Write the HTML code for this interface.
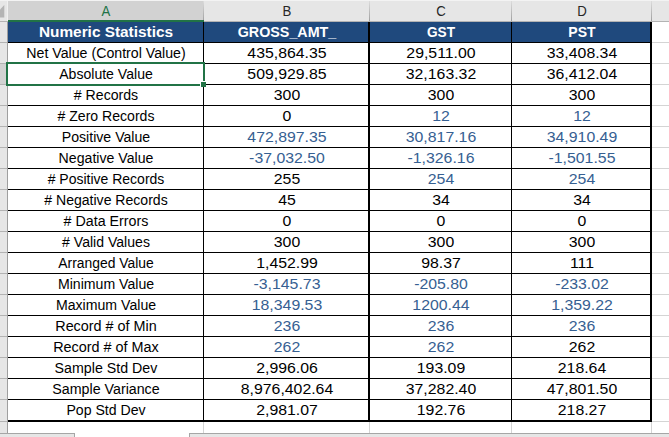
<!DOCTYPE html>
<html><head><meta charset="utf-8"><title>sheet</title>
<style>
html,body{margin:0;padding:0;}
body{width:669px;height:437px;position:relative;overflow:hidden;background:#fff;font-family:"Liberation Sans",sans-serif;}
div{position:absolute;}
.t{white-space:nowrap;font-size:14.0px;line-height:20px;height:20px;color:#000;transform-origin:50% 50%;text-align:center;}
.b{color:#366092;}
.h{color:#fff;font-weight:bold;font-size:14px;}
.hl{background:#000;}
.gl{background:#d4d4d4;}
.ch{font-size:14.4px;line-height:20px;height:20px;color:#444;white-space:nowrap;}
</style></head><body>

<div style="left:0;top:0;width:669px;height:21px;background:#e6e6e6"></div>
<div style="left:0;top:0;width:669px;height:1px;background:#f3f3f3"></div>
<div style="left:0;top:21px;width:669px;height:1px;background:#b3b3b3"></div>
<div style="left:8px;top:1px;width:195px;height:19px;background:#d2d2d2"></div>
<div style="left:7px;top:1px;width:1px;height:20px;background:#f0f0f0"></div>
<div style="left:203px;top:1px;width:1px;height:20px;background:linear-gradient(#dcdcdc,#a0a0a0)"></div>
<div style="left:369px;top:1px;width:1px;height:20px;background:linear-gradient(#dcdcdc,#a0a0a0)"></div>
<div style="left:511px;top:1px;width:1px;height:20px;background:linear-gradient(#dcdcdc,#a0a0a0)"></div>
<div style="left:651px;top:1px;width:1px;height:20px;background:linear-gradient(#dcdcdc,#a0a0a0)"></div>
<div style="left:8px;top:20px;width:196px;height:2px;background:#217346"></div>
<svg style="position:absolute;left:0;top:0" width="8" height="21"><polygon points="4.3,5 4.3,17.5 0,17.5 0,9.5" fill="#b4b4b4"/></svg>
<div style="left:0;top:22px;width:7px;height:411px;background:#e6e6e6"></div>
<div style="left:7px;top:22px;width:1px;height:411px;background:#9f9f9f"></div>
<div style="left:0;top:42px;width:7px;height:1px;background:#b3b3b3"></div>
<div style="left:0;top:63px;width:7px;height:1px;background:#b3b3b3"></div>
<div style="left:0;top:84px;width:7px;height:1px;background:#b3b3b3"></div>
<div style="left:0;top:105px;width:7px;height:1px;background:#b3b3b3"></div>
<div style="left:0;top:126px;width:7px;height:1px;background:#b3b3b3"></div>
<div style="left:0;top:147px;width:7px;height:1px;background:#b3b3b3"></div>
<div style="left:0;top:168px;width:7px;height:1px;background:#b3b3b3"></div>
<div style="left:0;top:189px;width:7px;height:1px;background:#b3b3b3"></div>
<div style="left:0;top:210px;width:7px;height:1px;background:#b3b3b3"></div>
<div style="left:0;top:231px;width:7px;height:1px;background:#b3b3b3"></div>
<div style="left:0;top:252px;width:7px;height:1px;background:#b3b3b3"></div>
<div style="left:0;top:273px;width:7px;height:1px;background:#b3b3b3"></div>
<div style="left:0;top:294px;width:7px;height:1px;background:#b3b3b3"></div>
<div style="left:0;top:315px;width:7px;height:1px;background:#b3b3b3"></div>
<div style="left:0;top:336px;width:7px;height:1px;background:#b3b3b3"></div>
<div style="left:0;top:357px;width:7px;height:1px;background:#b3b3b3"></div>
<div style="left:0;top:378px;width:7px;height:1px;background:#b3b3b3"></div>
<div style="left:0;top:399px;width:7px;height:1px;background:#b3b3b3"></div>
<div style="left:0;top:421px;width:7px;height:1px;background:#b3b3b3"></div>
<div style="left:0;top:64px;width:6px;height:20px;background:#d2d2d2"></div>
<div style="left:8px;top:22px;width:643px;height:20px;background:#1f497d"></div>
<div class="gl" style="left:652px;top:42px;width:17px;height:1px"></div>
<div class="gl" style="left:652px;top:63px;width:17px;height:1px"></div>
<div class="gl" style="left:652px;top:84px;width:17px;height:1px"></div>
<div class="gl" style="left:652px;top:105px;width:17px;height:1px"></div>
<div class="gl" style="left:652px;top:126px;width:17px;height:1px"></div>
<div class="gl" style="left:652px;top:147px;width:17px;height:1px"></div>
<div class="gl" style="left:652px;top:168px;width:17px;height:1px"></div>
<div class="gl" style="left:652px;top:189px;width:17px;height:1px"></div>
<div class="gl" style="left:652px;top:210px;width:17px;height:1px"></div>
<div class="gl" style="left:652px;top:231px;width:17px;height:1px"></div>
<div class="gl" style="left:652px;top:252px;width:17px;height:1px"></div>
<div class="gl" style="left:652px;top:273px;width:17px;height:1px"></div>
<div class="gl" style="left:652px;top:294px;width:17px;height:1px"></div>
<div class="gl" style="left:652px;top:315px;width:17px;height:1px"></div>
<div class="gl" style="left:652px;top:336px;width:17px;height:1px"></div>
<div class="gl" style="left:652px;top:357px;width:17px;height:1px"></div>
<div class="gl" style="left:652px;top:378px;width:17px;height:1px"></div>
<div class="gl" style="left:652px;top:399px;width:17px;height:1px"></div>
<div class="gl" style="left:652px;top:421px;width:17px;height:1px"></div>
<div class="gl" style="left:203px;top:422px;width:1px;height:11px"></div>
<div class="gl" style="left:369px;top:422px;width:1px;height:11px"></div>
<div class="gl" style="left:511px;top:422px;width:1px;height:11px"></div>
<div class="gl" style="left:651px;top:422px;width:1px;height:11px"></div>
<div class="hl" style="left:8px;top:42px;width:643px;height:1px"></div>
<div class="hl" style="left:8px;top:63px;width:643px;height:1px"></div>
<div class="hl" style="left:8px;top:84px;width:643px;height:1px"></div>
<div class="hl" style="left:8px;top:105px;width:643px;height:1px"></div>
<div class="hl" style="left:8px;top:126px;width:643px;height:1px"></div>
<div class="hl" style="left:8px;top:147px;width:643px;height:1px"></div>
<div class="hl" style="left:8px;top:168px;width:643px;height:1px"></div>
<div class="hl" style="left:8px;top:189px;width:643px;height:1px"></div>
<div class="hl" style="left:8px;top:210px;width:643px;height:1px"></div>
<div class="hl" style="left:8px;top:231px;width:643px;height:1px"></div>
<div class="hl" style="left:8px;top:252px;width:643px;height:1px"></div>
<div class="hl" style="left:8px;top:273px;width:643px;height:1px"></div>
<div class="hl" style="left:8px;top:294px;width:643px;height:1px"></div>
<div class="hl" style="left:8px;top:315px;width:643px;height:1px"></div>
<div class="hl" style="left:8px;top:336px;width:643px;height:1px"></div>
<div class="hl" style="left:8px;top:357px;width:643px;height:1px"></div>
<div class="hl" style="left:8px;top:378px;width:643px;height:1px"></div>
<div class="hl" style="left:8px;top:399px;width:643px;height:1px"></div>
<div class="hl" style="left:8px;top:420px;width:644px;height:2px"></div>
<div class="hl" style="left:203px;top:22px;width:1px;height:399px"></div>
<div class="hl" style="left:368px;top:22px;width:2px;height:399px"></div>
<div class="hl" style="left:511px;top:22px;width:1px;height:399px"></div>
<div class="hl" style="left:650px;top:22px;width:2px;height:400px"></div>
<div style="left:0;top:433px;width:75px;height:4px;background:#e6e6e6;border-top:1px solid #a6a6a6;border-right:1px solid #a6a6a6;box-sizing:border-box"></div>
<div style="left:189px;top:433px;width:480px;height:4px;background:#e6e6e6;border-top:1px solid #a6a6a6;border-left:1px solid #a6a6a6;box-sizing:border-box"></div>
<div style="left:6px;top:62px;width:199px;height:2px;background:#217346"></div>
<div style="left:6px;top:84px;width:194px;height:2px;background:#217346"></div>
<div style="left:6px;top:62px;width:2px;height:24px;background:#217346"></div>
<div style="left:203px;top:62px;width:2px;height:19px;background:#217346"></div>
<div style="left:200px;top:81px;width:6px;height:6px;background:#fff"></div>
<div style="left:201px;top:82px;width:5px;height:5px;background:#217346"></div>
<div class="ch" style="left:106.0px;top:1px;width:40px;margin-left:-20px;text-align:center;color:#217346;transform:scaleX(0.92)">A</div>
<div class="ch" style="left:286.5px;top:1px;width:40px;margin-left:-20px;text-align:center;color:#262626;transform:scaleX(0.92)">B</div>
<div class="ch" style="left:441.0px;top:1px;width:40px;margin-left:-20px;text-align:center;color:#262626;transform:scaleX(0.92)">C</div>
<div class="ch" style="left:582.0px;top:1px;width:40px;margin-left:-20px;text-align:center;color:#262626;transform:scaleX(0.92)">D</div>
<div class="t h" style="left:106.0px;top:22px;width:260px;margin-left:-130px;transform:scaleX(1.0978)">Numeric Statistics</div>
<div class="t h" style="left:286.5px;top:22px;width:260px;margin-left:-130px;transform:scaleX(1.0222)">GROSS_AMT_</div>
<div class="t h" style="left:441.0px;top:22px;width:260px;margin-left:-130px;transform:scaleX(0.9763)">GST</div>
<div class="t h" style="left:582.0px;top:22px;width:260px;margin-left:-130px;transform:scaleX(1.0012)">PST</div>
<div class="t" style="left:106.0px;top:43px;width:260px;margin-left:-130px;transform:scaleX(1.0117)">Net Value (Control Value)</div>
<div class="t" style="left:286.5px;top:43px;width:260px;margin-left:-130px;transform:scaleX(1.1313)">435,864.35</div>
<div class="t" style="left:441.0px;top:43px;width:260px;margin-left:-130px;transform:scaleX(1.1313)">29,511.00</div>
<div class="t" style="left:582.0px;top:43px;width:260px;margin-left:-130px;transform:scaleX(1.1313)">33,408.34</div>
<div class="t" style="left:106.0px;top:64px;width:260px;margin-left:-130px;transform:scaleX(1.0050)">Absolute Value</div>
<div class="t" style="left:286.5px;top:64px;width:260px;margin-left:-130px;transform:scaleX(1.1313)">509,929.85</div>
<div class="t" style="left:441.0px;top:64px;width:260px;margin-left:-130px;transform:scaleX(1.1313)">32,163.32</div>
<div class="t" style="left:582.0px;top:64px;width:260px;margin-left:-130px;transform:scaleX(1.1313)">36,412.04</div>
<div class="t" style="left:106.0px;top:85px;width:260px;margin-left:-130px;transform:scaleX(1.0088)"># Records</div>
<div class="t" style="left:286.5px;top:85px;width:260px;margin-left:-130px;transform:scaleX(1.1313)">300</div>
<div class="t" style="left:441.0px;top:85px;width:260px;margin-left:-130px;transform:scaleX(1.1313)">300</div>
<div class="t" style="left:582.0px;top:85px;width:260px;margin-left:-130px;transform:scaleX(1.1313)">300</div>
<div class="t" style="left:106.0px;top:106px;width:260px;margin-left:-130px;transform:scaleX(1.0050)"># Zero Records</div>
<div class="t" style="left:286.5px;top:106px;width:260px;margin-left:-130px;transform:scaleX(1.1313)">0</div>
<div class="t b" style="left:441.0px;top:106px;width:260px;margin-left:-130px;transform:scaleX(1.1313)">12</div>
<div class="t b" style="left:582.0px;top:106px;width:260px;margin-left:-130px;transform:scaleX(1.1313)">12</div>
<div class="t" style="left:106.0px;top:127px;width:260px;margin-left:-130px;transform:scaleX(1.0079)">Positive Value</div>
<div class="t b" style="left:286.5px;top:127px;width:260px;margin-left:-130px;transform:scaleX(1.1313)">472,897.35</div>
<div class="t b" style="left:441.0px;top:127px;width:260px;margin-left:-130px;transform:scaleX(1.1313)">30,817.16</div>
<div class="t b" style="left:582.0px;top:127px;width:260px;margin-left:-130px;transform:scaleX(1.1313)">34,910.49</div>
<div class="t" style="left:106.0px;top:148px;width:260px;margin-left:-130px;transform:scaleX(1.0088)">Negative Value</div>
<div class="t b" style="left:286.5px;top:148px;width:260px;margin-left:-130px;transform:scaleX(1.1313)">-37,032.50</div>
<div class="t b" style="left:441.0px;top:148px;width:260px;margin-left:-130px;transform:scaleX(1.1313)">-1,326.16</div>
<div class="t b" style="left:582.0px;top:148px;width:260px;margin-left:-130px;transform:scaleX(1.1313)">-1,501.55</div>
<div class="t" style="left:106.0px;top:169px;width:260px;margin-left:-130px;transform:scaleX(0.9993)"># Positive Records</div>
<div class="t" style="left:286.5px;top:169px;width:260px;margin-left:-130px;transform:scaleX(1.1313)">255</div>
<div class="t b" style="left:441.0px;top:169px;width:260px;margin-left:-130px;transform:scaleX(1.1313)">254</div>
<div class="t b" style="left:582.0px;top:169px;width:260px;margin-left:-130px;transform:scaleX(1.1313)">254</div>
<div class="t" style="left:106.0px;top:190px;width:260px;margin-left:-130px;transform:scaleX(1.0040)"># Negative Records</div>
<div class="t" style="left:286.5px;top:190px;width:260px;margin-left:-130px;transform:scaleX(1.1313)">45</div>
<div class="t" style="left:441.0px;top:190px;width:260px;margin-left:-130px;transform:scaleX(1.1313)">34</div>
<div class="t" style="left:582.0px;top:190px;width:260px;margin-left:-130px;transform:scaleX(1.1313)">34</div>
<div class="t" style="left:106.0px;top:211px;width:260px;margin-left:-130px;transform:scaleX(1.0184)"># Data Errors</div>
<div class="t" style="left:286.5px;top:211px;width:260px;margin-left:-130px;transform:scaleX(1.1313)">0</div>
<div class="t" style="left:441.0px;top:211px;width:260px;margin-left:-130px;transform:scaleX(1.1313)">0</div>
<div class="t" style="left:582.0px;top:211px;width:260px;margin-left:-130px;transform:scaleX(1.1313)">0</div>
<div class="t" style="left:106.0px;top:232px;width:260px;margin-left:-130px;transform:scaleX(1.0050)"># Valid Values</div>
<div class="t" style="left:286.5px;top:232px;width:260px;margin-left:-130px;transform:scaleX(1.1313)">300</div>
<div class="t" style="left:441.0px;top:232px;width:260px;margin-left:-130px;transform:scaleX(1.1313)">300</div>
<div class="t" style="left:582.0px;top:232px;width:260px;margin-left:-130px;transform:scaleX(1.1313)">300</div>
<div class="t" style="left:106.0px;top:253px;width:260px;margin-left:-130px;transform:scaleX(0.9916)">Arranged Value</div>
<div class="t" style="left:286.5px;top:253px;width:260px;margin-left:-130px;transform:scaleX(1.1313)">1,452.99</div>
<div class="t" style="left:441.0px;top:253px;width:260px;margin-left:-130px;transform:scaleX(1.1313)">98.37</div>
<div class="t" style="left:582.0px;top:253px;width:260px;margin-left:-130px;transform:scaleX(1.1313)">111</div>
<div class="t" style="left:106.0px;top:274px;width:260px;margin-left:-130px;transform:scaleX(1.0079)">Minimum Value</div>
<div class="t b" style="left:286.5px;top:274px;width:260px;margin-left:-130px;transform:scaleX(1.1313)">-3,145.73</div>
<div class="t b" style="left:441.0px;top:274px;width:260px;margin-left:-130px;transform:scaleX(1.1313)">-205.80</div>
<div class="t b" style="left:582.0px;top:274px;width:260px;margin-left:-130px;transform:scaleX(1.1313)">-233.02</div>
<div class="t" style="left:106.0px;top:295px;width:260px;margin-left:-130px;transform:scaleX(1.0088)">Maximum Value</div>
<div class="t b" style="left:286.5px;top:295px;width:260px;margin-left:-130px;transform:scaleX(1.1313)">18,349.53</div>
<div class="t b" style="left:441.0px;top:295px;width:260px;margin-left:-130px;transform:scaleX(1.1313)">1200.44</div>
<div class="t b" style="left:582.0px;top:295px;width:260px;margin-left:-130px;transform:scaleX(1.1313)">1,359.22</div>
<div class="t" style="left:106.0px;top:316px;width:260px;margin-left:-130px;transform:scaleX(1.0270)">Record # of Min</div>
<div class="t b" style="left:286.5px;top:316px;width:260px;margin-left:-130px;transform:scaleX(1.1313)">236</div>
<div class="t b" style="left:441.0px;top:316px;width:260px;margin-left:-130px;transform:scaleX(1.1313)">236</div>
<div class="t b" style="left:582.0px;top:316px;width:260px;margin-left:-130px;transform:scaleX(1.1313)">236</div>
<div class="t" style="left:106.0px;top:337px;width:260px;margin-left:-130px;transform:scaleX(1.0280)">Record # of Max</div>
<div class="t b" style="left:286.5px;top:337px;width:260px;margin-left:-130px;transform:scaleX(1.1313)">262</div>
<div class="t b" style="left:441.0px;top:337px;width:260px;margin-left:-130px;transform:scaleX(1.1313)">262</div>
<div class="t" style="left:582.0px;top:337px;width:260px;margin-left:-130px;transform:scaleX(1.1313)">262</div>
<div class="t" style="left:106.0px;top:358px;width:260px;margin-left:-130px;transform:scaleX(1.0155)">Sample Std Dev</div>
<div class="t" style="left:286.5px;top:358px;width:260px;margin-left:-130px;transform:scaleX(1.1313)">2,996.06</div>
<div class="t" style="left:441.0px;top:358px;width:260px;margin-left:-130px;transform:scaleX(1.1313)">193.09</div>
<div class="t" style="left:582.0px;top:358px;width:260px;margin-left:-130px;transform:scaleX(1.1313)">218.64</div>
<div class="t" style="left:106.0px;top:379px;width:260px;margin-left:-130px;transform:scaleX(1.0165)">Sample Variance</div>
<div class="t" style="left:286.5px;top:379px;width:260px;margin-left:-130px;transform:scaleX(1.1313)">8,976,402.64</div>
<div class="t" style="left:441.0px;top:379px;width:260px;margin-left:-130px;transform:scaleX(1.1313)">37,282.40</div>
<div class="t" style="left:582.0px;top:379px;width:260px;margin-left:-130px;transform:scaleX(1.1313)">47,801.50</div>
<div class="t" style="left:106.0px;top:400px;width:260px;margin-left:-130px;transform:scaleX(1.0069)">Pop Std Dev</div>
<div class="t" style="left:286.5px;top:400px;width:260px;margin-left:-130px;transform:scaleX(1.1313)">2,981.07</div>
<div class="t" style="left:441.0px;top:400px;width:260px;margin-left:-130px;transform:scaleX(1.1313)">192.76</div>
<div class="t" style="left:582.0px;top:400px;width:260px;margin-left:-130px;transform:scaleX(1.1313)">218.27</div>
</body></html>
